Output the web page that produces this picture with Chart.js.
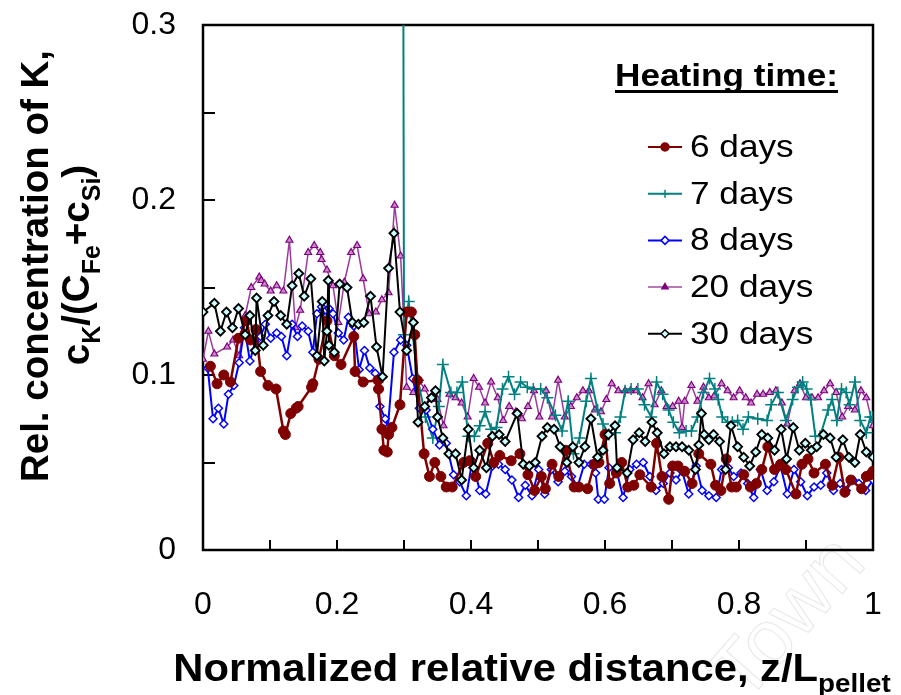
<!DOCTYPE html>
<html>
<head>
<meta charset="utf-8">
<script src="https://cdn.jsdelivr.net/npm/chart.js@4.4.1/dist/chart.umd.min.js"></script>
<style>
  html, body { margin: 0; padding: 0; background: #fff; }
  #wrap { width: 901px; height: 695px; position: relative; }
</style>
</head>
<body>
<div id="wrap"><canvas id="chart"></canvas></div>
<script>
const FONT = 'Arial, "Liberation Sans", sans-serif';

// tick labels
const xLabels = [0, 0.2, 0.4, 0.6, 0.8, 1];
const yLabels = [0, 0.1, 0.2, 0.3];

const seriesNames = ['6 days', '7 days', '8 days', '20 days', '30 days'];

// 6 days
const x6 = [0.011,0.021,0.031,0.041,0.053,0.065,0.071,0.079,0.086,0.097,
  0.109,0.120,0.123,0.131,0.139,0.142,0.162,0.164,0.173,0.185,
  0.196,0.206,0.225,0.227,0.239,0.261,0.262,0.267,0.270,0.275,
  0.277,0.282,0.294,0.304,0.311,0.316,0.320,0.330,0.338,0.346,
  0.355,0.363,0.372,0.389,0.398,0.407,0.425,0.434,0.443,0.460,
  0.473,0.485,0.495,0.505,0.511,0.521,0.531,0.541,0.554,0.561,
  0.574,0.584,0.591,0.600,0.607,0.617,0.625,0.634,0.643,0.652,
  0.669,0.677,0.685,0.695,0.701,0.709,0.719,0.730,0.740,0.758,
  0.765,0.773,0.781,0.789,0.796,0.807,0.817,0.826,0.834,0.843,
  0.853,0.862,0.870,0.885,0.894,0.903,0.912,0.929,0.939,0.949,
  0.958,0.967,0.983,0.990,0.996,1.000];
const y6 = [0.105,0.095,0.100,0.096,0.121,0.131,0.120,0.126,0.102,0.094,
  0.092,0.068,0.066,0.078,0.081,0.082,0.093,0.095,0.109,0.131,
  0.111,0.106,0.122,0.102,0.096,0.097,0.092,0.069,0.057,0.056,
  0.066,0.070,0.083,0.136,0.136,0.123,0.097,0.055,0.042,0.050,
  0.042,0.036,0.036,0.050,0.051,0.042,0.061,0.050,0.054,0.051,
  0.055,0.043,0.034,0.042,0.035,0.049,0.042,0.057,0.036,0.036,
  0.035,0.049,0.050,0.066,0.038,0.044,0.050,0.036,0.037,0.043,
  0.036,0.061,0.042,0.029,0.048,0.048,0.045,0.038,0.055,0.049,
  0.037,0.034,0.052,0.036,0.036,0.043,0.036,0.038,0.046,0.059,
  0.046,0.049,0.046,0.032,0.049,0.052,0.044,0.049,0.037,0.053,
  0.033,0.040,0.035,0.042,0.043,0.045];

// 7 days (first point runs off the top of the plot)
const x7 = [0.299,0.300,0.307,0.321,0.332,0.343,0.352,0.358,0.370,0.379,
  0.387,0.396,0.405,0.413,0.421,0.430,0.438,0.447,0.456,0.465,
  0.474,0.484,0.493,0.504,0.514,0.526,0.536,0.545,0.553,0.562,
  0.572,0.579,0.589,0.597,0.606,0.615,0.623,0.630,0.639,0.649,
  0.659,0.669,0.677,0.686,0.695,0.702,0.711,0.721,0.729,0.738,
  0.747,0.756,0.764,0.769,0.775,0.783,0.790,0.798,0.806,0.814,
  0.828,0.842,0.848,0.858,0.870,0.880,0.888,0.895,0.901,0.907,
  0.914,0.921,0.933,0.939,0.946,0.953,0.960,0.965,0.973,0.981,
  0.990,0.996,1.000];
const y7 = [0.32,0.123,0.142,0.097,0.076,0.064,0.082,0.106,0.090,0.090,
  0.096,0.065,0.065,0.071,0.079,0.069,0.070,0.092,0.099,0.089,
  0.096,0.093,0.092,0.092,0.087,0.077,0.068,0.085,0.055,0.064,
  0.085,0.098,0.080,0.072,0.066,0.067,0.076,0.091,0.092,0.092,
  0.083,0.076,0.096,0.089,0.080,0.073,0.067,0.068,0.068,0.076,
  0.090,0.098,0.092,0.086,0.076,0.073,0.073,0.074,0.069,0.076,
  0.075,0.074,0.083,0.090,0.074,0.086,0.093,0.096,0.092,0.086,
  0.065,0.065,0.080,0.086,0.074,0.092,0.090,0.083,0.096,0.074,
  0.067,0.076,0.076];

// 8 days
const x8 = [0.007,0.015,0.023,0.031,0.038,0.046,0.054,0.062,0.070,0.078,
  0.086,0.093,0.101,0.110,0.117,0.125,0.133,0.141,0.148,0.157,
  0.164,0.170,0.177,0.183,0.188,0.194,0.202,0.210,0.217,0.225,
  0.233,0.241,0.249,0.257,0.264,0.272,0.276,0.285,0.295,0.304,
  0.313,0.323,0.333,0.343,0.353,0.363,0.374,0.383,0.393,0.402,
  0.413,0.422,0.432,0.441,0.451,0.461,0.471,0.481,0.491,0.501,
  0.510,0.520,0.530,0.540,0.550,0.559,0.569,0.579,0.586,0.590,
  0.599,0.606,0.617,0.627,0.637,0.647,0.657,0.667,0.676,0.687,
  0.697,0.706,0.715,0.725,0.736,0.745,0.755,0.766,0.774,0.784,
  0.792,0.803,0.813,0.822,0.832,0.842,0.852,0.862,0.872,0.882,
  0.892,0.902,0.912,0.922,0.931,0.941,0.951,0.960,0.970,0.979,
  0.989,1.000];
const y8 = [0.104,0.075,0.081,0.072,0.089,0.094,0.107,0.127,0.108,0.119,
  0.122,0.129,0.121,0.124,0.122,0.111,0.129,0.122,0.128,0.125,
  0.113,0.135,0.139,0.133,0.138,0.135,0.124,0.120,0.133,0.128,
  0.103,0.114,0.104,0.101,0.082,0.075,0.070,0.113,0.120,0.117,
  0.098,0.081,0.080,0.069,0.060,0.061,0.043,0.039,0.031,0.051,
  0.034,0.032,0.048,0.049,0.046,0.040,0.030,0.037,0.031,0.046,
  0.032,0.046,0.039,0.045,0.042,0.036,0.049,0.049,0.044,0.029,
  0.029,0.047,0.046,0.030,0.046,0.049,0.050,0.042,0.034,0.038,
  0.044,0.040,0.045,0.032,0.048,0.034,0.031,0.030,0.046,0.047,
  0.042,0.044,0.038,0.030,0.046,0.034,0.039,0.048,0.032,0.046,
  0.039,0.031,0.036,0.037,0.044,0.034,0.038,0.034,0.040,0.038,
  0.034,0.040];

// 20 days
const x20 = [0.000,0.008,0.017,0.036,0.045,0.054,0.063,0.072,0.084,0.087,
  0.092,0.101,0.110,0.120,0.129,0.138,0.145,0.157,0.166,0.175,
  0.177,0.185,0.194,0.202,0.211,0.221,0.230,0.239,0.248,0.258,
  0.267,0.277,0.286,0.295,0.304,0.314,0.322,0.331,0.340,0.350,
  0.359,0.368,0.377,0.386,0.395,0.404,0.412,0.421,0.430,0.440,
  0.448,0.457,0.467,0.476,0.485,0.494,0.502,0.512,0.521,0.530,
  0.540,0.549,0.558,0.567,0.576,0.585,0.594,0.602,0.610,0.620,
  0.630,0.638,0.647,0.656,0.665,0.674,0.684,0.692,0.701,0.710,
  0.715,0.719,0.729,0.738,0.747,0.755,0.763,0.774,0.783,0.792,
  0.801,0.810,0.818,0.827,0.836,0.846,0.855,0.864,0.872,0.883,
  0.891,0.900,0.909,0.918,0.927,0.936,0.945,0.954,0.963,0.973,
  0.982,0.990,1.000];
const y20 = [0.109,0.125,0.112,0.116,0.120,0.111,0.134,0.150,0.156,0.154,
  0.152,0.148,0.151,0.148,0.177,0.127,0.137,0.170,0.174,0.170,
  0.166,0.160,0.151,0.130,0.153,0.170,0.174,0.155,0.135,0.136,
  0.143,0.147,0.197,0.168,0.093,0.090,0.097,0.092,0.086,0.086,
  0.071,0.089,0.087,0.084,0.076,0.098,0.093,0.084,0.096,0.087,
  0.074,0.082,0.079,0.075,0.082,0.091,0.076,0.091,0.076,0.097,
  0.076,0.082,0.087,0.091,0.091,0.080,0.079,0.086,0.095,0.091,
  0.091,0.091,0.091,0.087,0.095,0.083,0.091,0.082,0.082,0.085,
  0.070,0.085,0.094,0.085,0.093,0.087,0.088,0.095,0.091,0.087,
  0.091,0.087,0.084,0.089,0.089,0.090,0.091,0.084,0.072,0.091,
  0.095,0.087,0.087,0.087,0.091,0.095,0.090,0.076,0.082,0.080,
  0.091,0.087,0.071];

// 30 days
const x30 = [0.000,0.017,0.026,0.035,0.044,0.053,0.063,0.070,0.078,0.080,
  0.090,0.097,0.106,0.116,0.125,0.133,0.143,0.151,0.161,0.170,
  0.178,0.181,0.185,0.187,0.188,0.196,0.204,0.215,0.223,0.232,
  0.240,0.250,0.259,0.268,0.277,0.285,0.294,0.304,0.314,0.321,
  0.331,0.341,0.347,0.350,0.358,0.367,0.377,0.386,0.396,0.404,
  0.413,0.423,0.432,0.442,0.451,0.469,0.478,0.487,0.496,0.506,
  0.514,0.524,0.533,0.543,0.552,0.561,0.570,0.579,0.589,0.597,
  0.605,0.615,0.618,0.633,0.642,0.651,0.660,0.670,0.678,0.688,
  0.697,0.706,0.715,0.725,0.735,0.740,0.744,0.748,0.755,0.762,
  0.771,0.780,0.788,0.798,0.807,0.816,0.825,0.834,0.843,0.853,
  0.863,0.871,0.881,0.890,0.899,0.908,0.916,0.926,0.936,0.945,
  0.955,0.964,0.973,0.981,0.990,1.000];
const y30 = [0.136,0.141,0.125,0.136,0.127,0.138,0.123,0.134,0.114,0.144,
  0.117,0.134,0.142,0.134,0.129,0.151,0.158,0.145,0.155,0.111,
  0.142,0.108,0.125,0.154,0.117,0.113,0.152,0.150,0.130,0.129,
  0.130,0.145,0.116,0.099,0.161,0.181,0.136,0.114,0.130,0.073,
  0.082,0.087,0.091,0.076,0.064,0.055,0.055,0.040,0.069,0.047,
  0.057,0.047,0.065,0.066,0.062,0.078,0.049,0.048,0.050,0.065,
  0.070,0.069,0.059,0.050,0.059,0.050,0.059,0.075,0.053,0.057,
  0.066,0.071,0.047,0.044,0.063,0.067,0.062,0.073,0.067,0.055,
  0.059,0.059,0.059,0.057,0.046,0.060,0.078,0.066,0.063,0.066,
  0.062,0.046,0.071,0.059,0.053,0.048,0.056,0.066,0.064,0.057,
  0.069,0.052,0.070,0.057,0.061,0.057,0.059,0.066,0.064,0.053,
  0.063,0.053,0.050,0.066,0.056,0.053];

const pairs = (xs, ys) => xs.map((x, i) => ({ x: x, y: ys[i] }));

const datasets = [
  { label: seriesNames[0], data: pairs(x6, y6), order: 1,
    borderColor: '#800000', borderWidth: 2.5, pointStyle: 'circle', pointRadius: 5,
    pointBackgroundColor: '#800000', pointBorderColor: '#800000', pointBorderWidth: 1,
    legendRadius: 4, legendFill: '#800000', legendStroke: '#800000' },
  { label: seriesNames[1], data: pairs(x7, y7), order: 3,
    borderColor: '#008080', borderWidth: 2, pointStyle: 'cross', pointRadius: 6,
    pointBackgroundColor: '#008080', pointBorderColor: '#008080', pointBorderWidth: 1.5,
    legendRadius: 4, legendFill: '#008080', legendStroke: '#008080' },
  { label: seriesNames[2], data: pairs(x8, y8), order: 2,
    borderColor: '#0000ff', borderWidth: 2, pointStyle: 'rectRot', pointRadius: 4,
    pointBackgroundColor: '#ffffff', pointBorderColor: '#0000ff', pointBorderWidth: 1.5,
    legendRadius: 4, legendFill: '#ffffff', legendStroke: '#0000ff' },
  { label: seriesNames[3], data: pairs(x20, y20), order: 4,
    borderColor: '#9b3a9b', borderWidth: 1.5, pointStyle: 'triangle', pointRadius: 4,
    pointBackgroundColor: '#c98ac9', pointBorderColor: '#800080', pointBorderWidth: 1.2,
    legendRadius: 3.5, legendFill: '#800080', legendStroke: '#800080', legendLine: '#b77ab7' },
  { label: seriesNames[4], data: pairs(x30, y30), order: 0,
    borderColor: '#000000', borderWidth: 2, pointStyle: 'rectRot', pointRadius: 4.5,
    pointBackgroundColor: '#ccffff', pointBorderColor: '#000000', pointBorderWidth: 1.8,
    legendRadius: 4, legendFill: '#ccffff', legendStroke: '#000000' }
];
datasets.forEach(d => { d.showLine = true; d.tension = 0; d.pointHoverRadius = d.pointRadius; });

function drawMarker(ctx, style, x, y, r, fill, stroke) {
  ctx.beginPath();
  if (style === 'circle') {
    ctx.arc(x, y, r, 0, Math.PI * 2);
  } else if (style === 'rectRot') {
    ctx.moveTo(x - r, y); ctx.lineTo(x, y - r); ctx.lineTo(x + r, y); ctx.lineTo(x, y + r); ctx.closePath();
  } else if (style === 'triangle') {
    ctx.moveTo(x, y - r); ctx.lineTo(x + r * 0.87, y + r * 0.5); ctx.lineTo(x - r * 0.87, y + r * 0.5); ctx.closePath();
  } else if (style === 'cross') {
    ctx.moveTo(x - r, y); ctx.lineTo(x + r, y); ctx.moveTo(x, y - r); ctx.lineTo(x, y + r);
  }
  if (style !== 'cross') { ctx.fillStyle = fill; ctx.fill(); }
  ctx.lineWidth = 1.5;
  ctx.strokeStyle = stroke;
  ctx.stroke();
}

// text with subscripts, parts = [[text, isSub], ...]; sx stretches horizontally
function drawRich(ctx, parts, cx, cy, size, rotate, sx) {
  const sub = Math.round(size * 0.66);
  ctx.save();
  ctx.translate(cx, cy);
  if (rotate) ctx.rotate(-Math.PI / 2);
  if (sx) ctx.scale(sx, 1);
  ctx.fillStyle = '#000';
  ctx.textBaseline = 'alphabetic';
  ctx.textAlign = 'left';
  let total = 0;
  parts.forEach(p => { ctx.font = 'bold ' + (p[1] ? sub : size) + 'px ' + FONT; total += ctx.measureText(p[0]).width; });
  let x = -total / 2;
  parts.forEach(p => {
    ctx.font = 'bold ' + (p[1] ? sub : size) + 'px ' + FONT;
    ctx.fillText(p[0], x, p[1] ? size * 0.28 : 0);
    x += ctx.measureText(p[0]).width;
  });
  ctx.restore();
}

function stretchText(ctx, text, x, y, sx) {
  ctx.save();
  ctx.translate(x, y);
  ctx.scale(sx, 1);
  ctx.fillText(text, 0, 0);
  const w = ctx.measureText(text).width * sx;
  ctx.restore();
  return w;
}

const frame = {
  id: 'frame',
  beforeDatasetsDraw(chart) {
    const { ctx, chartArea: a, scales } = chart;
    ctx.save();
    ctx.strokeStyle = '#000';
    ctx.lineWidth = 2.5;
    ctx.strokeRect(a.left, a.top, a.right - a.left, a.bottom - a.top);
    ctx.lineWidth = 2;
    ctx.beginPath();
    scales.x.ticks.forEach(t => {
      const px = Math.round(scales.x.getPixelForValue(t.value));
      ctx.moveTo(px, a.bottom); ctx.lineTo(px, a.bottom - 10);
    });
    scales.y.ticks.forEach(t => {
      const py = Math.round(scales.y.getPixelForValue(t.value));
      ctx.moveTo(a.left, py); ctx.lineTo(a.left + 12, py);
    });
    ctx.stroke();
    ctx.restore();
  },
  afterDraw(chart) {
    const ctx = chart.ctx;
    ctx.save();
    // watermark
    ctx.translate(790, 620);
    ctx.rotate(-0.85);
    ctx.font = '80px ' + FONT;
    ctx.textAlign = 'center';
    ctx.textBaseline = 'middle';
    ctx.strokeStyle = 'rgba(0,0,0,0.09)';
    ctx.lineWidth = 1.2;
    ctx.strokeText('Town', 0, 0);
    ctx.restore();

    // axis titles
    drawRich(ctx, [['Normalized relative distance, z/L', false], ['pellet', true]], 532, 681, 39, false, 1.07);
    drawRich(ctx, [['Rel. concentration of K,', false]], 48, 266, 38.5, true);
    drawRich(ctx, [['c', false], ['K', true], ['/(C', false], ['Fe', true], ['+c', false], ['Si', true], [')', false]], 89, 265, 38.5, true);

    // legend
    ctx.save();
    ctx.fillStyle = '#000';
    ctx.font = 'bold 32px ' + FONT;
    ctx.textBaseline = 'alphabetic';
    const w = stretchText(ctx, 'Heating time:', 615, 86, 1.1);
    ctx.fillRect(615, 90, w, 3);
    ctx.font = '32px ' + FONT;
    ctx.textBaseline = 'middle';
    chart.data.datasets.forEach((d, i) => {
      const y = 147 + i * 46.7;
      ctx.strokeStyle = d.legendLine || d.borderColor;
      ctx.lineWidth = 2;
      ctx.beginPath(); ctx.moveTo(648, y); ctx.lineTo(682, y); ctx.stroke();
      drawMarker(ctx, d.pointStyle, 665, y, d.legendRadius, d.legendFill, d.legendStroke);
      ctx.fillStyle = '#000';
      stretchText(ctx, d.label, 690, y + 1, 1.1);
    });
    ctx.restore();
  }
};

const fmt = v => String(+v.toFixed(1));
// fixed axis sizes, and no extra room for label overhang
const clearPads = s => { s.paddingTop = 0; s.paddingBottom = 0; s.paddingLeft = 0; s.paddingRight = 0; };

new Chart(document.getElementById('chart'), {
  type: 'scatter',
  data: { datasets: datasets },
  plugins: [frame],
  options: {
    responsive: true,
    maintainAspectRatio: false,
    animation: false,
    events: [],
    layout: { padding: { top: 25, right: 28, left: 0, bottom: 0 } },
    plugins: { legend: { display: false }, tooltip: { enabled: false } },
    scales: {
      x: {
        type: 'linear', min: 0, max: 1,
        grid: { display: false, drawTicks: false },
        border: { display: false },
        ticks: {
          stepSize: 0.1, autoSkip: false, maxRotation: 0, padding: 36,
          color: '#000', font: { family: FONT, size: 32 },
          callback: v => xLabels.some(l => Math.abs(l - v) < 1e-6) ? fmt(v) : ''
        },
        afterFit: s => { s.height = 145; clearPads(s); }
      },
      y: {
        type: 'linear', min: 0, max: 0.3,
        grid: { display: false, drawTicks: false },
        border: { display: false },
        ticks: {
          stepSize: 0.05, autoSkip: false, padding: 27,
          color: '#000', font: { family: FONT, size: 32 },
          callback: v => yLabels.some(l => Math.abs(l - v) < 1e-6) ? fmt(v) : ''
        },
        afterFit: s => { s.width = 203; clearPads(s); }
      }
    }
  }
});
</script>
</body>
</html>
